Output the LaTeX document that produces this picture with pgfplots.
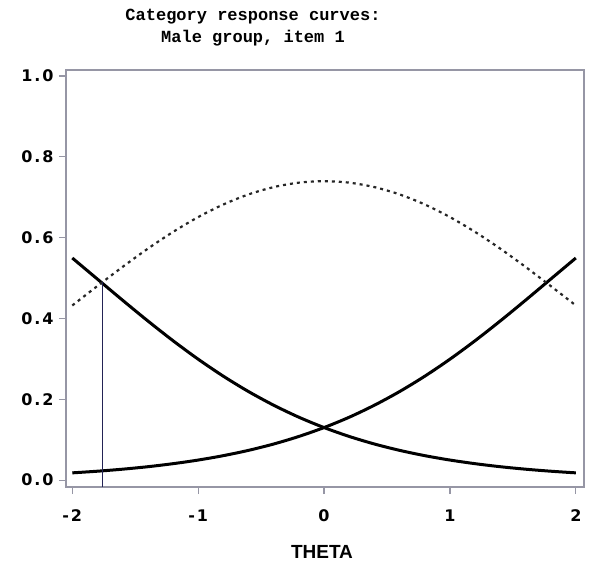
\documentclass[border=0pt]{standalone}
\usepackage{pgfplots}
\pgfplotsset{compat=1.18}
\usepackage{fontspec}
\setmainfont{DejaVu Sans}
\newfontfamily\titlefont{Liberation Mono}
\newfontfamily\tickfont[LetterSpace=12]{DejaVu Sans}
\newfontfamily\labfont{Liberation Sans}
\definecolor{framegray}{RGB}{150,150,165}
\definecolor{navy}{RGB}{35,35,85}
\begin{document}
\begin{tikzpicture}
\useasboundingbox (0,0) rectangle (589pt,571pt);
\begin{axis}[
  at={(66pt,84pt)}, anchor=south west,
  width=518pt, height=417pt, scale only axis,
  xmin=-2.05, xmax=2.065, ymin=-0.017, ymax=1.015,
  xtick={-2,-1,0,1,2}, xticklabels={-2,-1,0,1,2},
  ytick={0,0.2,0.4,0.6,0.8,1.0},
  xtick pos=bottom, ytick pos=left,
  yticklabel style={/pgf/number format/.cd, fixed, fixed zerofill, precision=1},
  /pgf/number format/assume math mode=true,
  ticklabel style={font=\tickfont\bfseries\fontsize{16}{18}\selectfont},
  tick align=outside, major tick length=7pt,
  tick style={framegray, line width=1.2pt},
  axis line style={framegray, line width=1.5pt},
  xticklabel shift=12pt,
  yticklabel shift=2pt,
]
\addplot[black, line width=3pt, smooth] coordinates {
(-2.0,0.5497) (-1.8,0.4974) (-1.6,0.4451) (-1.4,0.3940) (-1.2,0.3451)
(-1.0,0.2993) (-0.8,0.2572) (-0.6,0.2192) (-0.4,0.1854) (-0.2,0.1557)
(0.0,0.1301) (0.2,0.1081) (0.4,0.0894) (0.6,0.0737) (0.8,0.0606)
(1.0,0.0497) (1.2,0.0407) (1.4,0.0332) (1.6,0.0271) (1.8,0.0221) (2.0,0.0180)};
\addplot[black, line width=3pt, smooth] coordinates {
(-2.0,0.0180) (-1.8,0.0221) (-1.6,0.0271) (-1.4,0.0332) (-1.2,0.0407)
(-1.0,0.0497) (-0.8,0.0606) (-0.6,0.0737) (-0.4,0.0894) (-0.2,0.1081)
(0.0,0.1301) (0.2,0.1557) (0.4,0.1854) (0.6,0.2192) (0.8,0.2572)
(1.0,0.2993) (1.2,0.3451) (1.4,0.3940) (1.6,0.4451) (1.8,0.4974) (2.0,0.5497)};
\addplot[black!85, line width=2.2pt, smooth, dash pattern=on 3pt off 4pt] coordinates {
(-2.0,0.4323) (-1.8,0.4805) (-1.6,0.5278) (-1.4,0.5728) (-1.2,0.6142)
(-1.0,0.6510) (-0.8,0.6822) (-0.6,0.7071) (-0.4,0.7252) (-0.2,0.7362)
(0.0,0.7398) (0.2,0.7362) (0.4,0.7252) (0.6,0.7071) (0.8,0.6822)
(1.0,0.6510) (1.2,0.6142) (1.4,0.5728) (1.6,0.5278) (1.8,0.4805) (2.0,0.4323)};
\addplot[navy, line width=1.6pt] coordinates {(-1.76,-0.017) (-1.76,0.49)};
\end{axis}
\node[font=\titlefont\bfseries\fontsize{17}{19}\selectfont] at (253pt,554pt) {Category response curves:};
\node[font=\titlefont\bfseries\fontsize{17}{19}\selectfont] at (253pt,533pt) {Male group, item 1};
\node[font=\labfont\bfseries\fontsize{19}{21}\selectfont] at (322pt,19pt) {THETA};
\end{tikzpicture}
\end{document}
